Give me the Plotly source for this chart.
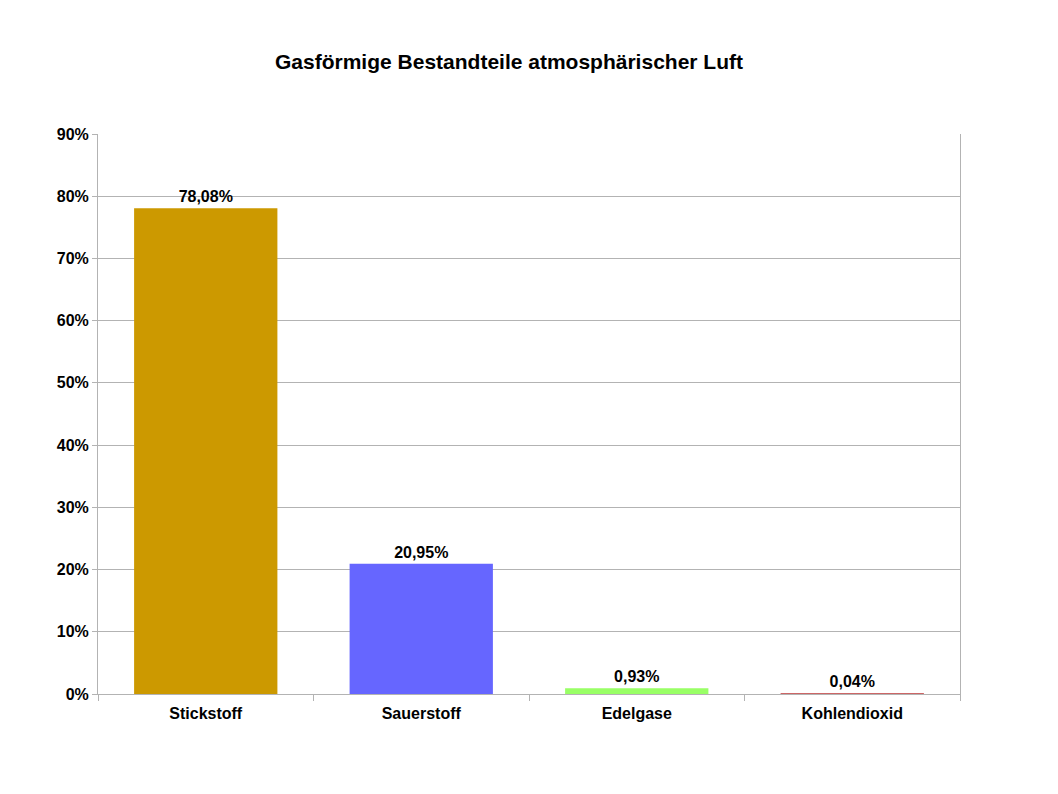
import plotly.graph_objects as go

categories = ["Stickstoff", "Sauerstoff", "Edelgase", "Kohlendioxid"]
values = [78.08, 20.95, 0.93, 0.04]
colors = ["#CC9900", "#6666FF", "#99FF66", "#CC6666"]
y_ticks = [0, 10, 20, 30, 40, 50, 60, 70, 80, 90]

font_family = "Liberation Sans, Arial, sans-serif"

fig = go.Figure(
    go.Bar(
        x=categories,
        y=values,
        marker=dict(color=colors, line=dict(width=0)),
        width=0.665,
        texttemplate="<b>%{y:.2f}%</b>",
        textposition="outside",
        textfont=dict(family=font_family, size=16, color="#000000"),
        cliponaxis=False,
    )
)

fig.update_layout(
    width=1058,
    height=794,
    margin=dict(l=90, r=106, t=126, b=108),
    paper_bgcolor="#FFFFFF",
    plot_bgcolor="#FFFFFF",
    separators=",.",
    showlegend=False,
    title=dict(
        text="<b>Gasförmige Bestandteile atmosphärischer Luft</b>",
        font=dict(family=font_family, size=21, color="#000000"),
        x=501 / 1058,
        xanchor="center",
        y=1 - 54 / 794,
        yanchor="middle",
    ),
    font=dict(family=font_family, size=16, color="#000000"),
)

fig.update_yaxes(
    range=[0, 90],
    tickvals=y_ticks,
    ticktext=[f"<b>{v}%</b>" for v in y_ticks],
    showgrid=True,
    gridcolor="#B3B3B3",
    gridwidth=1,
    showline=True,
    linecolor="#B3B3B3",
    linewidth=1,
    mirror=True,
    ticks="outside",
    ticklen=5,
    tickcolor="#B3B3B3",
    zeroline=False,
    tickfont=dict(family=font_family, size=16, color="#000000"),
)

fig.update_xaxes(
    tickvals=categories,
    ticktext=[f"<b>{c}</b>" for c in categories],
    showline=True,
    linecolor="#B3B3B3",
    linewidth=1,
    ticks="outside",
    tickson="boundaries",
    ticklen=6,
    tickcolor="#B3B3B3",
    ticklabelstandoff=5,
    showgrid=False,
    tickfont=dict(family=font_family, size=16, color="#000000"),
)

fig.write_html("out.html")
